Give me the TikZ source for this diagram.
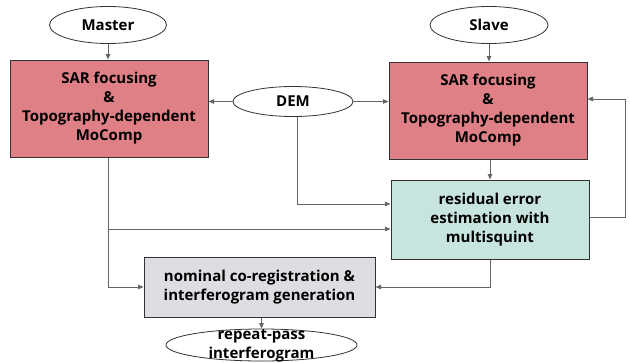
\documentclass[tikz,border=0pt]{standalone}
\usepackage{fontspec}
\setmainfont{Open Sans}
\usetikzlibrary{shapes.geometric,arrows.meta}
\definecolor{redbox}{RGB}{223,128,134}
\definecolor{tealbox}{RGB}{200,228,222}
\definecolor{graybox}{RGB}{221,222,226}
\definecolor{linegray}{RGB}{100,100,100}
\definecolor{bordergray}{RGB}{50,50,50}
\tikzset{
  every node/.style={font=\fontsize{15}{19}\selectfont\bfseries, align=center, text=black},
  oval/.style={ellipse, draw=bordergray, line width=0.8pt, fill=white, inner sep=0pt},
  procbox/.style={rectangle, draw=bordergray, line width=1pt, inner sep=0pt},
  conn/.style={draw=linegray, line width=0.9pt, -{Triangle[length=5.5pt,width=4.5pt]}},
}
\begin{document}
\begin{tikzpicture}[x=1pt,y=-1pt]
\useasboundingbox (0,0) rectangle (630,362);
\node[oval, minimum width=117, minimum height=37] (master) at (108,25) {Master};
\node[oval, minimum width=118, minimum height=37] (slave) at (489,25) {Slave};
\node[procbox, fill=redbox, minimum width=198, minimum height=97] (sarL) at (109,108.5) {SAR focusing\\\&\\Topography-dependent\\MoComp};
\node[procbox, fill=redbox, minimum width=198, minimum height=97] (sarR) at (488,110.5) {SAR focusing\\\&\\Topography-dependent\\MoComp};
\node[oval, minimum width=120, minimum height=30] (dem) at (293,101.5) {DEM};
\node[procbox, fill=tealbox, minimum width=198, minimum height=79] (resid) at (490,219.5) {residual error\\estimation with\\multisquint};
\node[procbox, fill=graybox, minimum width=231, minimum height=60] (nominal) at (259.5,287) {nominal co-registration \&\\interferogram generation};
\node[oval, minimum width=191, minimum height=32] (repeat) at (261.5,345) {};
\node (repeattext) at (261.5,346) {repeat-pass\\interferogram};
\coordinate (fbR) at (625,217);
\coordinate (fbT) at (625,99);
\coordinate (demD) at (297,204);
\coordinate (sarLD) at (108,287);
\coordinate (branch) at (108,229);
\coordinate (residD) at (490,287);

\draw[conn] (master.south) -- (master.south |- sarL.north);
\draw[conn] (slave.south) -- (slave.south |- sarR.north);
\draw[conn] (dem.west) -- (dem.west -| sarL.east);
\draw[conn] (dem.east) -- (dem.east -| sarR.west);
\draw[conn] (sarR.south -| resid.north) -- (resid.north);
\draw[conn] (resid.east |- fbR) -- (fbR) -- (fbT) -- (fbT -| sarR.east);
\draw[conn] (dem.south -| demD) -- (demD) -- (demD -| resid.west);
\draw[conn] (sarL.south -| sarLD) -- (sarLD) -- (sarLD -| nominal.west);
\draw[conn] (branch) -- (branch -| resid.west);
\draw[conn] (resid.south -| residD) -- (residD) -- (residD -| nominal.east);
\draw[conn] (nominal.south -| repeat.north) -- (repeat.north);
\end{tikzpicture}
\end{document}
